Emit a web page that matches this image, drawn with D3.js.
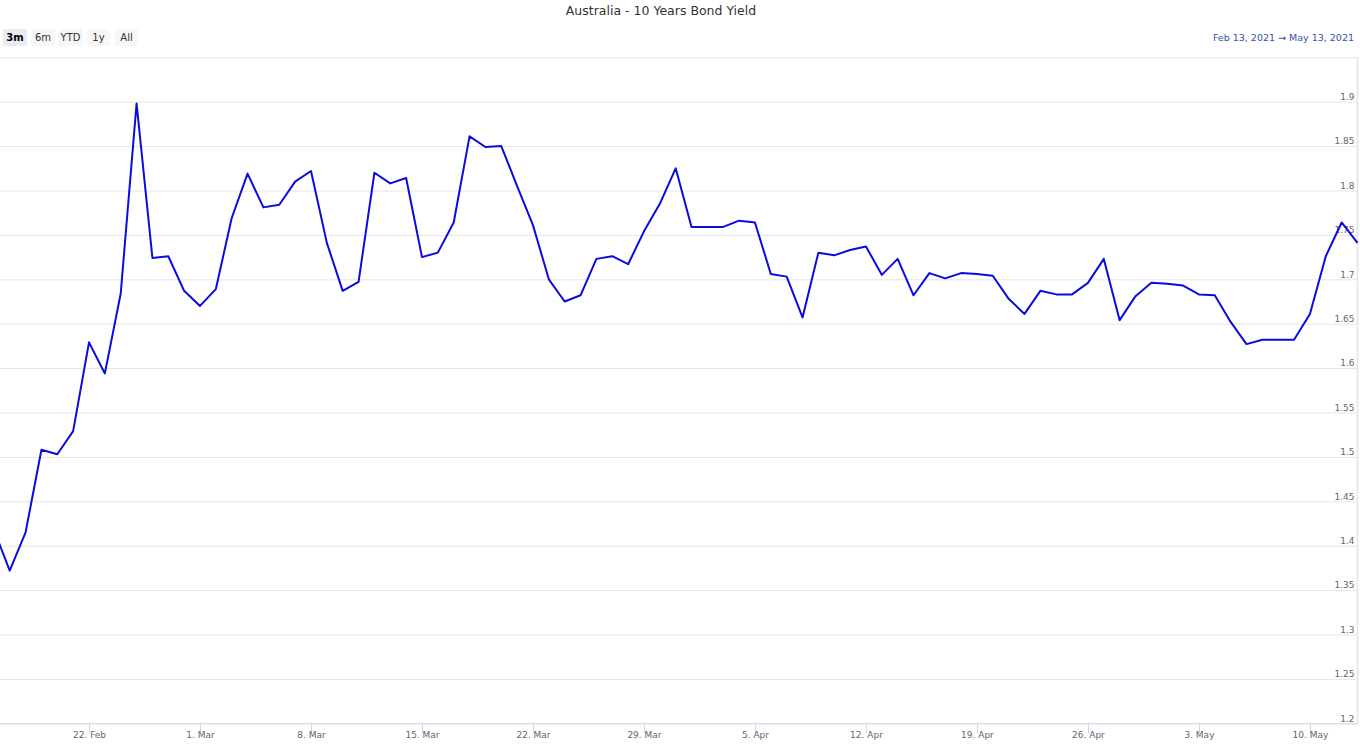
<!DOCTYPE html>
<html>
<head>
<meta charset="utf-8">
<script src="https://cdn.jsdelivr.net/npm/d3@7"></script>
<style>
  html, body { margin: 0; padding: 0; background: #fff; }
  svg { display: block; font-family: "DejaVu Sans", "Liberation Sans", sans-serif; }
</style>
</head>
<body>
<svg id="chart" width="1360" height="749"></svg>
<script>
// ---- data ----
const title = "Australia - 10 Years Bond Yield";
const rangeButtons = ["3m", "6m", "YTD", "1y", "All"];
const rangeFrom = "Feb 13, 2021";
const rangeTo = "May 13, 2021";
const startDate = "2021-02-16";
const yieldValues = [
  1.418, 1.372, 1.415, 1.508, 1.503, 1.529, 1.629, 1.594, 1.684, 1.898, 1.724, 1.726, 1.687,
  1.670, 1.689, 1.769, 1.819, 1.781, 1.784, 1.810, 1.822, 1.741, 1.687, 1.697, 1.820, 1.808,
  1.814, 1.725, 1.730, 1.764, 1.861, 1.849, 1.850, 1.805, 1.761, 1.700, 1.675, 1.682, 1.723,
  1.726, 1.717, 1.754, 1.785, 1.825,
  1.759, 1.759, 1.759, 1.766, 1.764, 1.706, 1.703, 1.657, 1.730, 1.727, 1.733, 1.737, 1.705,
  1.723, 1.682, 1.707, 1.701, 1.707, 1.706, 1.704, 1.678, 1.661, 1.687, 1.683, 1.683, 1.696,
  1.723, 1.654, 1.681, 1.696,
  1.695, 1.693, 1.683, 1.682, 1.652, 1.627, 1.632, 1.632, 1.632, 1.661, 1.726, 1.764, 1.741
];
const xTickDates = ["2021-02-22", "2021-03-01", "2021-03-08", "2021-03-15", "2021-03-22", "2021-03-29",
                    "2021-04-05", "2021-04-12", "2021-04-19", "2021-04-26", "2021-05-03", "2021-05-10"];
const yTicks = [1.2, 1.25, 1.3, 1.35, 1.4, 1.45, 1.5, 1.55, 1.6, 1.65, 1.7, 1.75, 1.8, 1.85, 1.9, 1.95];
const yLabelTicks = [1.2, 1.25, 1.3, 1.35, 1.4, 1.45, 1.5, 1.55, 1.6, 1.65, 1.7, 1.75, 1.8, 1.85, 1.9];

// ---- build ----
const parse = d3.utcParse("%Y-%m-%d");
const day0 = parse(startDate);
const series = yieldValues.map((v, i) => ({ date: d3.utcDay.offset(day0, i), value: v }));

const svg = d3.select("#chart");
const plotRight = 1357.5;
const plotTop = 57.3, plotBottom = 723.3;

const x = d3.scaleUtc()
  .domain([parse("2021-02-13"), parse("2021-05-13")])
  .range([-53.7, plotRight]);
const y = d3.scaleLinear().domain([1.2, 1.95]).range([plotBottom, plotTop]);

// title
svg.append("text")
  .attr("x", 661).attr("y", 15)
  .attr("text-anchor", "middle")
  .attr("font-size", 12.5).attr("fill", "#333")
  .text(title);

// range buttons
const btnX = [3, 31, 58, 87, 115];
const btnW = [24, 24, 25, 23, 23];
const btn = svg.append("g").selectAll("g").data(rangeButtons).join("g")
  .attr("transform", (d, i) => `translate(${btnX[i]},29)`);
btn.append("rect")
  .attr("width", (d, i) => btnW[i]).attr("height", 17).attr("rx", 2)
  .attr("fill", (d, i) => i === 0 ? "#e6ebf5" : "#f7f7f7");
btn.append("text")
  .attr("x", (d, i) => btnW[i] / 2).attr("y", 12.3)
  .attr("text-anchor", "middle").attr("font-size", 10)
  .attr("font-weight", (d, i) => i === 0 ? "bold" : "normal")
  .attr("fill", (d, i) => i === 0 ? "#000" : "#333")
  .text(d => d);

// date range
svg.append("text")
  .attr("x", 1354).attr("y", 40.5)
  .attr("text-anchor", "end").attr("font-size", 9.5).attr("fill", "#3355aa")
  .text(`${rangeFrom}  \u2192  ${rangeTo}`);

// y grid + labels
const yAxis = d3.axisLeft(y).tickValues(yTicks).tickSize(plotRight)
  .tickFormat(d => yLabelTicks.includes(d) ? d3.format("")(+d.toFixed(2)) : "");
const gy = svg.append("g").attr("transform", `translate(${plotRight},0)`).call(yAxis);
gy.select(".domain").remove();
gy.selectAll(".tick line").attr("stroke", "#e6e6e6").attr("stroke-width", 1);
gy.selectAll(".tick text")
  .attr("x", -3).attr("dy", "-0.25em")
  .attr("font-size", 9).attr("fill", "#666")
  .attr("font-family", "DejaVu Sans, sans-serif");

// right border
svg.append("line")
  .attr("x1", plotRight).attr("x2", plotRight).attr("y1", plotTop).attr("y2", plotBottom)
  .attr("stroke", "#e0e4ec").attr("stroke-width", 1.5);

// x axis
const xAxis = d3.axisBottom(x)
  .tickValues(xTickDates.map(parse))
  .tickSize(10).tickPadding(3)
  .tickFormat(d3.utcFormat("%-d. %b"));
const gx = svg.append("g").attr("transform", `translate(0,${plotBottom})`).call(xAxis);
gx.select(".domain").attr("stroke", "#ccd6eb").attr("d", `M0,0.5H${plotRight}`);
gx.selectAll(".tick line").attr("stroke", "#ccd6eb");
gx.selectAll(".tick text")
  .attr("font-size", 9).attr("fill", "#666")
  .attr("font-family", "DejaVu Sans, sans-serif")
  .attr("y", 8).attr("dy", "0.71em");

// line
const line = d3.line().x(d => x(d.date)).y(d => y(d.value));
svg.append("path")
  .datum(series)
  .attr("fill", "none")
  .attr("stroke", "#0b0be0")
  .attr("stroke-width", 2)
  .attr("stroke-linejoin", "round")
  .attr("d", line);
</script>
</body>
</html>
